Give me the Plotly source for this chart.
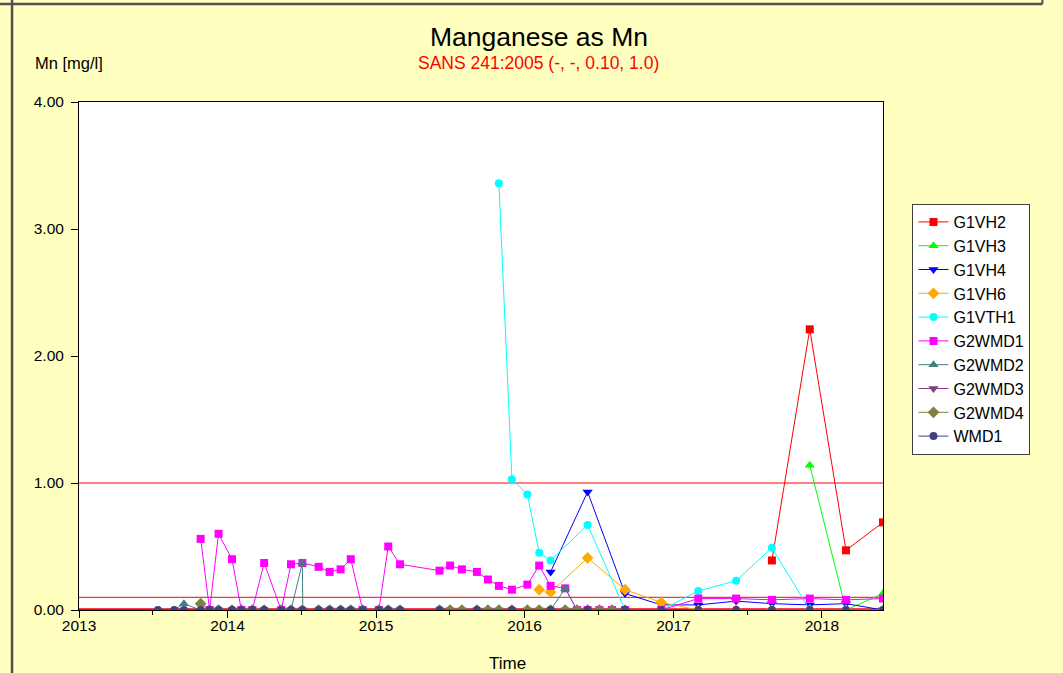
import plotly.graph_objects as go

# ---------------- data ----------------
series_names = ["G1VH2", "G1VH3", "G1VH4", "G1VH6", "G1VTH1",
                "G2WMD1", "G2WMD2", "G2WMD3", "G2WMD4", "WMD1"]

g1vh2_dates = ["2017-08-31", "2017-12-02", "2018-03-01", "2018-05-31"]
g1vh2_vals = [0.39, 2.21, 0.47, 0.69]

g1vh3_dates = ["2017-12-02", "2018-03-01", "2018-05-31"]
g1vh3_vals = [1.14, 0.00, 0.13]

g1vh4_dates = ["2016-03-05", "2016-06-04", "2016-09-04", "2016-12-02", "2017-03-03",
               "2017-06-04", "2017-08-31", "2017-12-02", "2018-03-01", "2018-05-31"]
g1vh4_vals = [0.30, 0.93, 0.13, 0.04, 0.04, 0.07, 0.05, 0.04, 0.05, 0.00]

g1vh6_dates = ["2016-02-06", "2016-03-05", "2016-06-04", "2016-09-04", "2016-12-02",
               "2017-03-03", "2017-06-04", "2017-08-31", "2017-12-02", "2018-03-01", "2018-05-31"]
g1vh6_vals = [0.16, 0.14, 0.41, 0.16, 0.06, 0.00, 0.00, 0.00, 0.00, 0.00, 0.00]

g1vth1_dates = ["2015-10-30", "2015-12-01", "2016-01-08", "2016-02-06", "2016-03-05",
                "2016-06-04", "2016-09-04", "2016-12-02", "2017-03-03", "2017-06-04",
                "2017-08-31", "2017-12-02", "2018-03-01", "2018-05-31"]
g1vth1_vals = [3.36, 1.03, 0.91, 0.45, 0.39, 0.67, 0.00, 0.00, 0.15, 0.23, 0.49, 0.00, 0.00, 0.00]

g2wmd1_dates = ["2013-10-27", "2013-11-18", "2013-12-10", "2014-01-12", "2014-02-04",
                "2014-03-03", "2014-04-01", "2014-05-13", "2014-06-06", "2014-07-04",
                "2014-08-13", "2014-09-09", "2014-10-06", "2014-10-31", "2014-11-29",
                "2015-01-08", "2015-01-31", "2015-03-01", "2015-06-06", "2015-07-02",
                "2015-07-31", "2015-09-06", "2015-10-03", "2015-10-30", "2015-12-01",
                "2016-01-08", "2016-02-06", "2016-03-05", "2016-04-10", "2016-05-09",
                "2016-06-04", "2016-07-03", "2016-08-03", "2016-09-04", "2016-12-02",
                "2017-03-03", "2017-06-04", "2017-08-31", "2017-12-02", "2018-03-01", "2018-05-31"]
g2wmd1_vals = [0.56, 0.00, 0.60, 0.40, 0.00,
               0.00, 0.37, 0.00, 0.36, 0.37,
               0.34, 0.30, 0.32, 0.40, 0.00,
               0.00, 0.50, 0.36, 0.31, 0.35,
               0.32, 0.30, 0.24, 0.19, 0.16,
               0.20, 0.35, 0.19, 0.17, 0.00,
               0.00, 0.00, 0.00, 0.00, 0.00,
               0.09, 0.09, 0.08, 0.09, 0.08, 0.09]

g2wmd2_dates = ["2013-08-23", "2013-09-16", "2013-10-27", "2013-11-18", "2013-12-10",
                "2014-01-12", "2014-02-04", "2014-03-03", "2014-04-01", "2014-05-13",
                "2014-06-06", "2014-07-04", "2014-07-05", "2014-08-13", "2014-09-09",
                "2014-10-06", "2014-10-31", "2014-11-29", "2015-01-08", "2015-01-31",
                "2015-03-01", "2015-06-06", "2015-07-02", "2015-07-31", "2015-09-06",
                "2015-10-03", "2015-10-30", "2015-12-01", "2016-01-08", "2016-02-06",
                "2016-03-05", "2016-04-10", "2016-05-09", "2016-06-04", "2016-07-03",
                "2016-08-03", "2016-09-04"]
g2wmd2_vals = [0.00, 0.05, 0.00, 0.00, 0.00,
               0.00, 0.00, 0.00, 0.00, 0.00,
               0.00, 0.37, 0.00, 0.00, 0.00,
               0.00, 0.00, 0.00, 0.00, 0.00,
               0.00, 0.00, 0.00, 0.00, 0.00,
               0.00, 0.00, 0.00, 0.00, 0.00,
               0.00, 0.17, 0.00, 0.00, 0.00,
               0.00, 0.00]

g2wmd3_dates = ["2013-11-18", "2013-12-10", "2014-01-12", "2014-02-04", "2014-03-03",
                "2014-04-01", "2014-05-13", "2014-06-06", "2014-07-04", "2014-08-13",
                "2014-09-09", "2014-10-06", "2014-10-31", "2014-11-29", "2015-01-08",
                "2015-01-31", "2015-03-01", "2015-06-06", "2015-07-02", "2015-07-31",
                "2015-09-06", "2015-10-03", "2015-10-30", "2015-12-01", "2016-01-08",
                "2016-02-06", "2016-03-05", "2016-04-10", "2016-05-09", "2016-06-04",
                "2016-07-03", "2016-08-03", "2016-09-04"]
g2wmd3_vals = [0.00, 0.00, 0.00, 0.00, 0.00, 0.00, 0.00, 0.00, 0.00, 0.00,
               0.00, 0.00, 0.00, 0.00, 0.00, 0.00, 0.00, 0.00, 0.00, 0.00,
               0.00, 0.00, 0.00, 0.00, 0.00, 0.00, 0.00, 0.00, 0.00, 0.00,
               0.00, 0.00, 0.00]

g2wmd4_dates = ["2013-10-27", "2013-11-18", "2013-12-10", "2014-01-12", "2014-02-04",
                "2014-03-03", "2014-04-01", "2014-05-13", "2014-06-06", "2014-07-04",
                "2014-08-13", "2014-09-09", "2014-10-06", "2014-10-31", "2014-11-29",
                "2015-01-08", "2015-01-31", "2015-03-01", "2015-06-06", "2015-07-02",
                "2015-07-31", "2015-09-06", "2015-10-03", "2015-10-30", "2015-12-01",
                "2016-01-08", "2016-02-06", "2016-03-05", "2016-04-10", "2016-05-09",
                "2016-06-04", "2016-07-03", "2016-08-03", "2016-09-04"]
g2wmd4_vals = [0.05, 0.00, 0.00, 0.00, 0.00, 0.00, 0.00, 0.00, 0.00, 0.00,
               0.00, 0.00, 0.00, 0.00, 0.00, 0.00, 0.00, 0.00, 0.00, 0.00,
               0.00, 0.00, 0.00, 0.00, 0.00, 0.00, 0.00, 0.00, 0.00, 0.00,
               0.00, 0.00, 0.00, 0.00]

wmd1_dates = ["2013-07-14", "2013-08-23", "2013-09-16", "2013-10-27", "2013-11-18",
              "2013-12-10", "2014-01-12", "2014-02-04", "2014-03-03", "2014-04-01",
              "2014-05-13", "2014-06-06", "2014-07-04", "2014-08-13", "2014-09-09",
              "2014-10-06", "2014-10-31", "2014-11-29", "2015-01-08", "2015-01-31",
              "2015-03-01", "2015-06-06", "2015-09-06", "2015-12-01", "2016-03-05",
              "2016-06-04", "2016-09-04", "2016-12-02", "2017-03-03", "2017-06-04",
              "2017-08-31", "2017-12-02", "2018-03-01", "2018-05-31"]
wmd1_vals = [0.00, 0.00, 0.00, 0.00, 0.00, 0.00, 0.00, 0.00, 0.00, 0.00,
             0.00, 0.00, 0.00, 0.00, 0.00, 0.00, 0.00, 0.00, 0.00, 0.00,
             0.00, 0.00, 0.00, 0.00, 0.00, 0.00, 0.00, 0.00, 0.00, 0.00,
             0.00, 0.00, 0.00, 0.00]

limit_values = [0.0, 0.10, 1.0]
y_ticks = [0, 1, 2, 3, 4]
x_range = ["2013-01-01", "2018-05-31"]

# ---------------- styling ----------------
styles = {
    "G1VH2": ("#FF0000", "square", 8),
    "G1VH3": ("#00FF00", "triangle-up", 9),
    "G1VH4": ("#0000FF", "triangle-down", 9),
    "G1VH6": ("#FFAA00", "diamond", 9),
    "G1VTH1": ("#00FFFF", "circle", 8),
    "G2WMD1": ("#FF00FF", "square", 8),
    "G2WMD2": ("#408080", "triangle-up", 9),
    "G2WMD3": ("#804080", "triangle-down", 9),
    "G2WMD4": ("#808040", "diamond", 9),
    "WMD1": ("#404080", "circle", 8),
}
data = {
    "G1VH2": (g1vh2_dates, g1vh2_vals),
    "G1VH3": (g1vh3_dates, g1vh3_vals),
    "G1VH4": (g1vh4_dates, g1vh4_vals),
    "G1VH6": (g1vh6_dates, g1vh6_vals),
    "G1VTH1": (g1vth1_dates, g1vth1_vals),
    "G2WMD1": (g2wmd1_dates, g2wmd1_vals),
    "G2WMD2": (g2wmd2_dates, g2wmd2_vals),
    "G2WMD3": (g2wmd3_dates, g2wmd3_vals),
    "G2WMD4": (g2wmd4_dates, g2wmd4_vals),
    "WMD1": (wmd1_dates, wmd1_vals),
}

FONT = "Liberation Sans, Arial, sans-serif"
W, H = 1063, 673
L, R, T, B = 79, 883.5, 102, 610  # plot area in pixels

def px(x):
    return (x - L) / (R - L)

def py(y):
    return (B - y) / (B - T)

fig = go.Figure()

for name in series_names:
    color, sym, size = styles[name]
    xs, ys = data[name]
    fig.add_trace(go.Scatter(
        x=xs, y=ys, name=name, mode="lines+markers",
        line=dict(color=color, width=1),
        marker=dict(color=color, symbol=sym, size=size, line=dict(width=0)),
    ))

# limit lines
for v in limit_values:
    fig.add_shape(type="line", xref="paper", yref="y", x0=0, x1=1, y0=v, y1=v,
                  line=dict(color="#FF0000", width=3.5 if v == 0 else 1), layer="below")

# outer frame lines
fig.add_shape(type="line", xref="paper", yref="paper", x0=px(12), x1=px(12),
              y0=py(0), y1=py(673), line=dict(color="#505050", width=2.5))
fig.add_shape(type="line", xref="paper", yref="paper", x0=px(0), x1=px(1043),
              y0=py(4), y1=py(4), line=dict(color="#505050", width=2.5))
fig.add_shape(type="line", xref="paper", yref="paper", x0=px(1043), x1=px(1043),
              y0=py(0), y1=py(4), line=dict(color="#505050", width=2))

fig.update_layout(
    width=W, height=H,
    paper_bgcolor="#FFFFC0", plot_bgcolor="white",
    margin=dict(l=L, r=W - R, t=T, b=H - B),
    font=dict(family=FONT, color="black", size=15),
    title=dict(text="Manganese as Mn", x=539 / W, xanchor="center",
               y=1 - 37 / H, yanchor="middle", yref="container",
               font=dict(family=FONT, size=26.5, color="black")),
    legend=dict(x=px(913), y=py(204), xanchor="left", yanchor="top",
                bgcolor="white", bordercolor="#404040", borderwidth=1,
                font=dict(family=FONT, size=16, color="black"),
                itemwidth=30, tracegroupgap=0),
    showlegend=True,
    annotations=[
        dict(text="SANS 241:2005 (-, -, 0.10, 1.0)", xref="paper", yref="paper",
             x=px(539), y=py(63), xanchor="center", yanchor="middle", showarrow=False,
             font=dict(family=FONT, size=17.5, color="#FF0000")),
        dict(text="Mn [mg/l]", xref="paper", yref="paper",
             x=px(33), y=py(63), xanchor="left", yanchor="middle", showarrow=False,
             font=dict(family=FONT, size=16.5, color="black")),
        dict(text="Time", xref="paper", yref="paper",
             x=px(508), y=py(663), xanchor="center", yanchor="middle", showarrow=False,
             font=dict(family=FONT, size=17, color="black")),
    ],
)

fig.update_xaxes(
    type="date", range=x_range, showgrid=False, zeroline=False,
    showline=True, linecolor="black", linewidth=1, mirror=True,
    ticks="outside", ticklen=7, tickcolor="black", tickwidth=1,
    dtick="M12", tick0="2013-01-01", tickformat="%Y",
    ticklabelstandoff=-6,
    tickfont=dict(family=FONT, size=15.5, color="black"),
    minor=dict(ticks="outside", ticklen=4, dtick="M6", tick0="2013-01-01",
               tickcolor="black", showgrid=False),
)
fig.update_yaxes(
    range=[0, 4], tickvals=y_ticks, tickformat=".2f", showgrid=False, zeroline=False,
    showline=True, linecolor="black", linewidth=1, mirror=True,
    ticks="outside", ticklen=7, tickcolor="black", tickwidth=1,
    ticklabelstandoff=4,
    tickfont=dict(family=FONT, size=15.5, color="black"),
)

fig.write_html("out.html", config={"displayModeBar": False},
               post_script="document.body.style.margin='0';")
